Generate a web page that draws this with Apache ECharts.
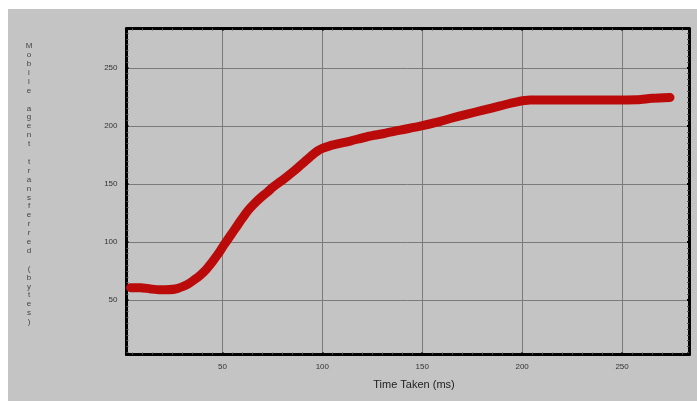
<!DOCTYPE html>
<html>
<head>
<meta charset="utf-8">
<script src="https://cdn.jsdelivr.net/npm/echarts@6/dist/echarts.min.js"></script>
<style>
  html, body { margin: 0; padding: 0; background: #ffffff; }
  #chart { width: 697px; height: 401px; }
</style>
</head>
<body>
<div id="chart"></div>
<script>
// Time taken (ms) against bytes of the mobile agent transferred
const timeMs = [4, 9, 14, 19, 26.5, 32.4, 36, 39, 42, 45, 48, 51, 54, 57, 60, 63, 66, 69, 72.5, 75.5, 79, 82.4, 86, 89, 92, 95, 97.5, 100, 103, 106, 114, 122.4, 131, 139, 149, 157, 164, 172, 180.5, 189, 197.4, 204, 215, 230, 245, 257.5, 265, 274];
const bytesTransferred = [60.6, 60.6, 59.5, 58.8, 59.5, 63.3, 67.5, 71.5, 76.5, 83, 90, 98, 105.5, 113, 120.5, 127.5, 133, 138, 143, 147.6, 152, 156.5, 161.5, 166, 170.5, 175, 178.3, 180.6, 182.4, 183.8, 187, 190.7, 193.5, 196.4, 199.8, 203, 206.4, 210, 213.6, 217.3, 220.8, 222.3, 222.4, 222.4, 222.4, 222.6, 223.8, 224.5];

const xTicks = [50, 100, 150, 200, 250];
const yTicks = [50, 100, 150, 200, 250];
const xTitle = 'Time Taken (ms)';
const yTitle = 'Mobile agent transferred (bytes)';

const points = timeMs.map((t, i) => [t, bytesTransferred[i]]);

const labelFont = { fontFamily: 'Liberation Sans, Arial, sans-serif', fontSize: 8, color: '#333333' };

function axisBase(ticks) {
  return {
    axisLine: { show: true, onZero: false, lineStyle: { color: '#000000', width: 3 } },
    axisTick: { show: true, inside: true, length: 2, customValues: ticks, lineStyle: { color: '#000000', width: 2 } },
    axisLabel: Object.assign({ customValues: ticks }, labelFont),
    splitLine: { show: true, customValues: ticks, lineStyle: { color: '#7a7a7a', width: 1 } },
    minorTick: { show: true, splitNumber: 10, length: 2, lineStyle: { color: '#555555', width: 1 } }
  };
}

function frameAxis(ticks, pos, min, max) {
  return {
    type: 'value', min: min, max: max, position: pos,
    axisLine: { show: true, onZero: false, lineStyle: { color: '#000000', width: 3 } },
    axisTick: { show: true, inside: true, length: 2, customValues: ticks, lineStyle: { color: '#000000', width: 2 } },
    minorTick: { show: true, splitNumber: 10, length: 2, lineStyle: { color: '#555555', width: 1 } },
    axisLabel: { show: false }, splitLine: { show: false }
  };
}

const chart = echarts.init(document.getElementById('chart'), null, { renderer: 'canvas' });
chart.setOption({
  backgroundColor: '#ffffff',
  animation: false,
  graphic: [
    { type: 'rect', z: -10, silent: true, shape: { x: 8, y: 9, width: 689, height: 392 }, style: { fill: '#c4c4c4' } },
    { type: 'text', z: 10, silent: true, x: 29, y: 184,
      style: { text: yTitle.split('').join('\n'), fontFamily: 'Liberation Sans, Arial, sans-serif', fontSize: 8,
               lineHeight: 8.9, fill: '#444444', align: 'center', verticalAlign: 'middle' } },
    { type: 'text', z: 10, silent: true, x: 414, y: 385,
      style: { text: xTitle, fontFamily: 'Liberation Sans, Arial, sans-serif', fontSize: 11,
               fill: '#222222', align: 'center', verticalAlign: 'middle' } }
  ],
  grid: { left: 126.5, right: 8, top: 28.5, bottom: 46.5, show: false },
  xAxis: [
    Object.assign({ type: 'value', min: 2, max: 283.5, position: 'bottom' }, axisBase(xTicks),
      { axisLabel: Object.assign({ customValues: xTicks, margin: 8 }, labelFont) }),
    frameAxis(xTicks, 'top', 2, 283.5)
  ],
  yAxis: [
    Object.assign({ type: 'value', min: 3, max: 284, position: 'left' }, axisBase(yTicks),
      { axisLabel: Object.assign({ customValues: yTicks, margin: 9 }, labelFont) }),
    frameAxis(yTicks, 'right', 3, 284)
  ],
  series: [{
    type: 'line',
    data: points,
    smooth: 0.3,
    showSymbol: false,
    clip: true,
    lineStyle: { color: '#bb0a0a', width: 9, cap: 'round', join: 'round' }
  }]
});
</script>
</body>
</html>
